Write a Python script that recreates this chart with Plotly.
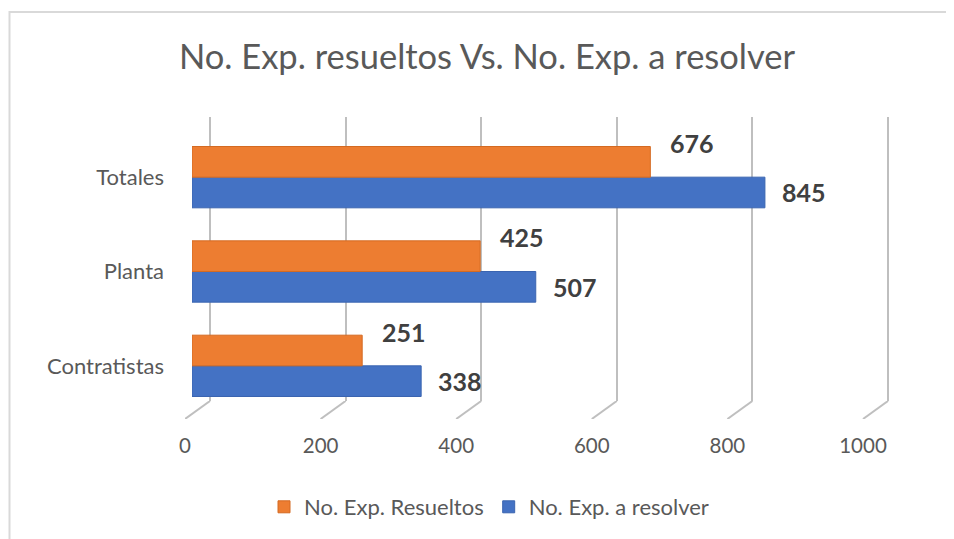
import plotly.graph_objects as go

# --- data ---
categorias = ["Contratistas", "Planta", "Totales"]
resueltos = [251, 425, 676]
a_resolver = [338, 507, 845]
ticks_x = [0, 200, 400, 600, 800, 1000]

# the page body adds an 8px margin, so the figure is drawn 8px in from the corner
OFF = 8
W, H = 954 - OFF, 539 - OFF
NARANJA = "#ED7D31"
AZUL = "#4472C4"
GRIS = "#595959"
GRID = "#BFBFBF"
FUENTE = "Lato, 'Open Sans', sans-serif"

ESCALA = 0.678          # px per unit on the value axis
PROF = 25 / ESCALA      # depth offset of the back wall, in value units


def px_x(p):
    return (p - OFF) / W


def px_y(p):
    return 1 - (p - OFF) / H


fig = go.Figure()

# invisible helper so the back-wall subplot (gridlines) gets drawn
fig.add_trace(go.Scatter(x=ticks_x, y=[0] * len(ticks_x), mode="none",
                         showlegend=False, hoverinfo="skip"))

# floor edges: short diagonals from the back wall down to the front edge
for t in ticks_x:
    fig.add_trace(go.Scatter(x=[t + PROF, t], y=[1, 0], mode="lines",
                             line=dict(color=GRID, width=2),
                             xaxis="x3", yaxis="y3",
                             showlegend=False, hoverinfo="skip"))

# blue first so it lands below the orange bar inside each group
fig.add_trace(go.Bar(
    y=categorias, x=a_resolver, orientation="h",
    name="No. Exp. a resolver",
    marker=dict(color=AZUL, line=dict(color="#3A64B0", width=1)),
    xaxis="x2", yaxis="y2", legendrank=2,
))
fig.add_trace(go.Bar(
    y=categorias, x=resueltos, orientation="h",
    name="No. Exp. Resueltos",
    marker=dict(color=NARANJA, line=dict(color="#D46A22", width=1)),
    xaxis="x2", yaxis="y2", legendrank=1,
))

# value labels
for i, (r, a) in enumerate(zip(resueltos, a_resolver)):
    fig.add_annotation(x=r, y=i + 0.17, xref="x2", yref="y2", text=f"<b>{r}</b>",
                       showarrow=False, xanchor="left", xshift=18, yshift=18,
                       font=dict(size=25, color="#404040", family=FUENTE))
    fig.add_annotation(x=a, y=i - 0.15, xref="x2", yref="y2", text=f"<b>{a}</b>",
                       showarrow=False, xanchor="left", xshift=15, yshift=-1,
                       font=dict(size=25, color="#404040", family=FUENTE))

fig.update_layout(
    width=W, height=H,
    margin=dict(l=0, r=0, t=0, b=0),
    paper_bgcolor="white", plot_bgcolor="rgba(0,0,0,0)",
    font=dict(family=FUENTE, color=GRIS),
    title=dict(text="No. Exp. resueltos Vs. No. Exp. a resolver",
               x=px_x(487), xanchor="center", y=px_y(57), yanchor="middle",
               font=dict(size=34.5, color=GRIS, family=FUENTE)),
    barmode="group", bargap=0.35, bargroupgap=0,
    # back-wall gridlines (shifted like the 3D chart)
    xaxis=dict(domain=[px_x(209), px_x(889)], range=[-1.5, 1001.5], tickvals=ticks_x,
               showgrid=True, gridcolor=GRID, gridwidth=2,
               showticklabels=False, zeroline=False, showline=False,
               anchor="y", automargin=False),
    yaxis=dict(domain=[px_y(401), px_y(117)], range=[0, 1], visible=False,
               showgrid=False, anchor="x", automargin=False),
    # front plane with the bars
    xaxis2=dict(domain=[px_x(192), px_x(870)], range=[0, 1000],
                showgrid=False, zeroline=False, showline=False, anchor="y2",
                showticklabels=False, automargin=False),
    yaxis2=dict(domain=[px_y(413), px_y(130)], range=[-0.5, 2.5],
                showgrid=False, zeroline=False, showline=False, anchor="x2",
                ticks="", ticklabelstandoff=27, automargin=False,
                tickfont=dict(size=22, color=GRIS, family=FUENTE)),
    # floor strip: diagonals plus the value tick labels
    xaxis3=dict(domain=[px_x(185), px_x(185 + ESCALA * 1100)], range=[0, 1100],
                tickvals=ticks_x, showgrid=False, zeroline=False, showline=False,
                anchor="y3", ticks="", ticklabelstandoff=12, automargin=False,
                tickfont=dict(size=20.5, color=GRIS, family=FUENTE)),
    yaxis3=dict(domain=[px_y(419), px_y(401)], range=[0, 1], visible=False,
                anchor="x3", automargin=False),
    legend=dict(orientation="h", x=px_x(489), xanchor="center", y=px_y(507),
                yanchor="middle", font=dict(size=22, color=GRIS, family=FUENTE),
                itemwidth=30, traceorder="normal"),
    shapes=[dict(type="rect", xref="paper", yref="paper",
                 x0=1.5 / W, x1=1.02, y0=-0.02, y1=px_y(12),
                 line=dict(color="#D9D9D9", width=2), fillcolor="rgba(0,0,0,0)")],
)

fig.write_html("out.html")
